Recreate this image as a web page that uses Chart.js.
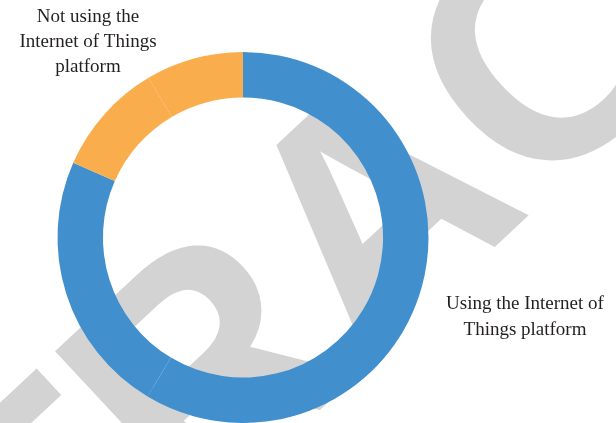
<!DOCTYPE html>
<html>
<head>
<meta charset="utf-8">
<script src="https://cdn.jsdelivr.net/npm/chart.js@4/dist/chart.umd.min.js"></script>
<style>
  html, body { margin: 0; padding: 0; background: #ffffff; }
  #wrap { width: 616px; height: 423px; }
</style>
</head>
<body>
<div id="wrap"><canvas id="c" width="616" height="423"></canvas></div>
<script>
// Data (share of respondents, %)
const categories = [
  "Using the Internet of Things platform",
  "Using the Internet of Things platform",
  "Not using the Internet of Things platform",
  "Not using the Internet of Things platform"
];
const shares = [58.6, 23.0, 9.9, 8.5];
const sliceColors = ["#428FCD", "#428FCD", "#F9AD4C", "#F9AD4C"];
const usingLabel = ["Using the Internet of", "Things platform"];
const notUsingLabel = ["Not using the", "Internet of Things", "platform"];
const watermark = "RETRACTED";

const watermarkPlugin = {
  id: "watermark",
  beforeDatasetsDraw(chart) {
    const ctx = chart.ctx;
    ctx.save();
    ctx.translate(388, 224);
    ctx.rotate(-43 * Math.PI / 180);
    ctx.fillStyle = "#D3D3D3";
    ctx.font = "bold 325px 'Liberation Sans', Arial, sans-serif";
    ctx.textAlign = "center";
    ctx.textBaseline = "middle";
    ctx.fillText(watermark, 0, 0);
    ctx.restore();
  }
};

const labelPlugin = {
  id: "sideLabels",
  afterDraw(chart) {
    const ctx = chart.ctx;
    ctx.save();
    ctx.fillStyle = "#231F20";
    ctx.font = "19px 'Liberation Serif', 'DejaVu Serif', serif";
    ctx.textAlign = "center";
    ctx.textBaseline = "middle";
    notUsingLabel.forEach((t, i) => ctx.fillText(t, 88, 17 + i * 25));
    usingLabel.forEach((t, i) => ctx.fillText(t, 525, 304 + i * 26));
    ctx.restore();
  }
};

new Chart(document.getElementById("c"), {
  type: "doughnut",
  data: {
    labels: categories,
    datasets: [{
      data: shares,
      backgroundColor: sliceColors,
      borderWidth: 0,
      hoverOffset: 0
    }]
  },
  options: {
    responsive: false,
    animation: false,
    cutout: "75.5%",
    layout: { padding: { left: 57, right: 187, top: 52, bottom: 0 } },
    plugins: {
      legend: { display: false },
      tooltip: { enabled: false }
    }
  },
  plugins: [watermarkPlugin, labelPlugin]
});
</script>
</body>
</html>
